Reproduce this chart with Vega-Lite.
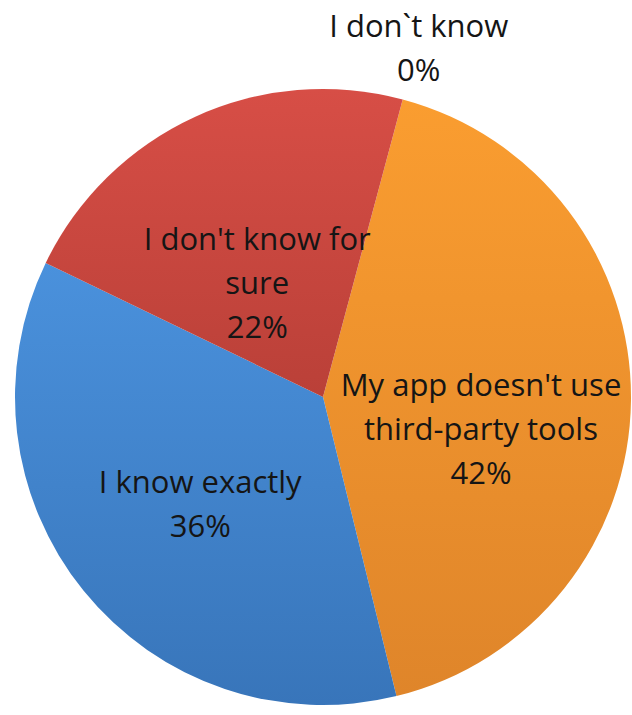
{
  "$schema": "https://vega.github.io/schema/vega-lite/v6.json",
  "width": 616,
  "height": 616,
  "autosize": {"type": "none"},
  "padding": {"left": 15, "top": 89, "right": 1, "bottom": 10},
  "background": "white",
  "config": {"view": {"stroke": null}},
  "data": {
    "values": [
      {"category": "My app doesn't use third-party tools", "value": 42, "label": "My app doesn't use\nthird-party tools\n42%"},
      {"category": "I know exactly", "value": 36, "label": "I know exactly\n36%"},
      {"category": "I don't know for sure", "value": 22, "label": "I don't know for\nsure\n22%"},
      {"category": "I don`t know", "value": 0, "label": "I don`t know\n0%"}
    ]
  },
  "layer": [
    {
      "transform": [
        {"stack": "value", "groupby": [], "sort": [{"field": "value", "order": "descending"}], "as": ["v0", "v1"]},
        {"filter": "datum.category === \"My app doesn't use third-party tools\""}
      ],
      "mark": {"type": "arc", "outerRadius": 308, "stroke": null,
        "fill": {"gradient": "linear", "x1": 0, "y1": 0, "x2": 0, "y2": 1, "stops": [{"offset": 0, "color": "#FA9D30"}, {"offset": 1, "color": "#DF852A"}]}},
      "encoding": {
        "theta": {"field": "v0", "type": "quantitative", "scale": {"domain": [0, 100], "range": [0.2618, 6.545]}},
        "theta2": {"field": "v1"}
      }
    },
    {
      "transform": [
        {"stack": "value", "groupby": [], "sort": [{"field": "value", "order": "descending"}], "as": ["v0", "v1"]},
        {"filter": "datum.category === 'I know exactly'"}
      ],
      "mark": {"type": "arc", "outerRadius": 308, "stroke": null,
        "fill": {"gradient": "linear", "x1": 0, "y1": 0, "x2": 0, "y2": 1, "stops": [{"offset": 0, "color": "#4A91DC"}, {"offset": 1, "color": "#3875BA"}]}},
      "encoding": {
        "theta": {"field": "v0", "type": "quantitative"},
        "theta2": {"field": "v1"}
      }
    },
    {
      "transform": [
        {"stack": "value", "groupby": [], "sort": [{"field": "value", "order": "descending"}], "as": ["v0", "v1"]},
        {"filter": "datum.category === \"I don't know for sure\""}
      ],
      "mark": {"type": "arc", "outerRadius": 308, "stroke": null,
        "fill": {"gradient": "linear", "x1": 0, "y1": 0, "x2": 0, "y2": 1, "stops": [{"offset": 0, "color": "#D74E46"}, {"offset": 1, "color": "#BA4038"}]}},
      "encoding": {
        "theta": {"field": "v0", "type": "quantitative"},
        "theta2": {"field": "v1"}
      }
    },
    {
      "transform": [{"filter": "datum.value > 0"}],
      "mark": {"type": "text", "radius": 158, "dy": -12, "font": "Open Sans", "fontSize": 31, "lineHeight": 44, "lineBreak": "\n", "color": "#151515", "align": "center", "baseline": "middle"},
      "encoding": {
        "theta": {"field": "value", "type": "quantitative", "stack": true},
        "order": {"field": "value", "type": "quantitative", "sort": "descending"},
        "text": {"field": "label"}
      }
    },
    {
      "transform": [{"filter": "datum.value == 0"}],
      "mark": {"type": "text", "radius": 370, "dy": -12, "font": "Open Sans", "fontSize": 31, "lineHeight": 44, "lineBreak": "\n", "color": "#151515", "align": "center", "baseline": "middle"},
      "encoding": {
        "theta": {"field": "value", "type": "quantitative", "stack": true},
        "text": {"field": "label"}
      }
    }
  ]
}
